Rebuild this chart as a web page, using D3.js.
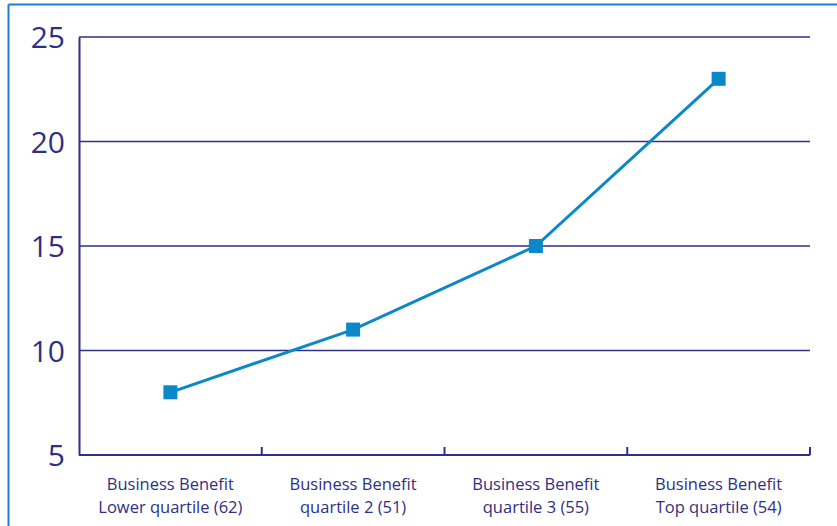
<!DOCTYPE html>
<html>
<head>
<meta charset="utf-8">
<script src="https://cdn.jsdelivr.net/npm/d3@7"></script>
<style>
  html, body { margin: 0; padding: 0; background: #fff; }
  svg { display: block; }
</style>
</head>
<body>
<svg id="chart" width="837" height="526"></svg>
<script>
// Quartile groups (first label line, second label line) and their values
const labelTop = ["Business Benefit", "Business Benefit", "Business Benefit", "Business Benefit"];
const labelBottom = ["Lower quartile (62)", "quartile 2 (51)", "quartile 3 (55)", "Top quartile (54)"];
const values = [8, 11, 15, 23];
const yTicks = [5, 10, 15, 20, 25];

const navy = "#2f2f84";
const blue = "#0a88c8";
const frame = "#1f7fc6";
const font = "'Open Sans', sans-serif";

const svg = d3.select("#chart");
const margin = { left: 79, right: 27, top: 37, bottom: 71 };
const W = 837, H = 526;

const x = d3.scaleBand()
  .domain(d3.range(values.length))
  .range([margin.left, W - margin.right])
  .paddingInner(0).paddingOuter(0);

const y = d3.scaleLinear()
  .domain([5, 25])
  .range([H - margin.bottom, margin.top]);

// outer frame (top and left edges visible)
svg.append("line").attr("x1", 8.5).attr("x2", W).attr("y1", 4.5).attr("y2", 4.5)
  .attr("stroke", frame).attr("stroke-width", 2);
svg.append("line").attr("x1", 8.5).attr("x2", 8.5).attr("y1", 4.5).attr("y2", H)
  .attr("stroke", frame).attr("stroke-width", 2);

// horizontal gridlines
svg.append("g").selectAll("line")
  .data(yTicks.filter(d => d !== 5))
  .join("line")
  .attr("x1", margin.left).attr("x2", W - margin.right)
  .attr("y1", d => y(d)).attr("y2", d => y(d))
  .attr("stroke", navy).attr("stroke-width", 1.6);

// y axis
const yAxis = svg.append("g")
  .attr("transform", `translate(${margin.left},0)`)
  .call(d3.axisLeft(y).tickValues(yTicks).tickSize(0).tickPadding(14));
yAxis.select(".domain").attr("stroke", navy).attr("stroke-width", 2);
yAxis.selectAll("text")
  .attr("fill", navy).attr("font-family", font).attr("font-size", 30)
  .attr("dy", "0.36em");

// x axis baseline with category boundary ticks pointing upward
const xAxisG = svg.append("g").attr("transform", `translate(0,${y(5)})`);
xAxisG.append("line").attr("x1", margin.left).attr("x2", W - margin.right)
  .attr("y1", 0).attr("y2", 0).attr("stroke", navy).attr("stroke-width", 2);
const bounds = d3.range(values.length).map(i => x(i) + x.bandwidth());
xAxisG.selectAll("line.tick")
  .data(bounds)
  .join("line").attr("class", "tick")
  .attr("x1", d => d).attr("x2", d => d)
  .attr("y1", 0).attr("y2", -8)
  .attr("stroke", navy).attr("stroke-width", 2);

// category labels
const labels = svg.append("g").selectAll("text")
  .data(d3.range(values.length))
  .join("text")
  .attr("x", i => x(i) + x.bandwidth() / 2)
  .attr("text-anchor", "middle")
  .attr("fill", navy).attr("font-family", font).attr("font-size", 16.5);
labels.append("tspan").attr("x", i => x(i) + x.bandwidth() / 2).attr("y", 490).text(i => labelTop[i]);
labels.append("tspan").attr("x", i => x(i) + x.bandwidth() / 2).attr("y", 513).text(i => labelBottom[i]);

// line series
const cx = i => x(i) + x.bandwidth() / 2;
svg.append("path")
  .datum(values)
  .attr("fill", "none")
  .attr("stroke", blue)
  .attr("stroke-width", 3)
  .attr("d", d3.line().x((d, i) => cx(i)).y(d => y(d)));

// square markers
const s = 14;
svg.append("g").selectAll("rect")
  .data(values)
  .join("rect")
  .attr("x", (d, i) => cx(i) - s / 2)
  .attr("y", d => y(d) - s / 2)
  .attr("width", s).attr("height", s)
  .attr("fill", blue);
</script>
</body>
</html>
